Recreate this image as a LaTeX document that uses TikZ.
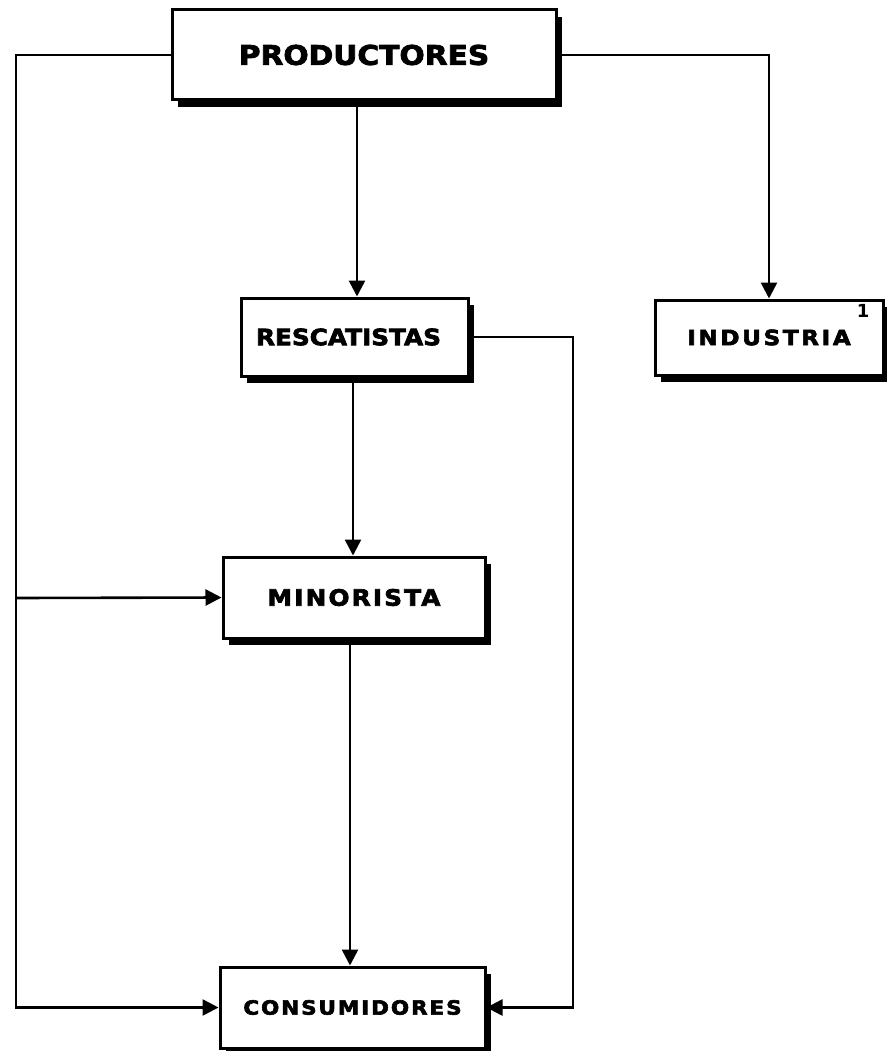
\documentclass[tikz,border=0pt]{standalone}
\usepackage{fontspec}
\newfontfamily\boxfont{DejaVu Sans}[BoldFont={DejaVu Sans Bold}]
\usetikzlibrary{positioning,arrows.meta,shadows}

\begin{document}
\begin{tikzpicture}[
  x=1pt, y=-1pt,
  actor/.style={rectangle, draw, line width=3pt, fill=white, align=center,
    inner sep=0pt,
    drop shadow={shadow xshift=6pt, shadow yshift=-7pt, fill=black, opacity=1}},
  arrow/.style={-{Triangle[length=16pt, width=16pt]}, line width=2.6pt},
]
\useasboundingbox (0,0) rectangle (886,1051);

% === Boxes ===
\node[actor, minimum width=384pt, minimum height=90pt,
  font=\boxfont\bfseries\fontsize{27}{28}\selectfont\addfontfeature{FakeStretch=1.1,FakeBold=3}]
  (prod) at (364,55) {PRODUCTORES};
\node[actor, minimum width=227pt, minimum height=78pt,
  font=\boxfont\bfseries\fontsize{22.5}{24}\selectfont\addfontfeature{FakeStretch=1.1,FakeBold=3}]
  (resc) at (354.5,337) {\hspace*{-12pt}RESCATISTAS};
\node[actor, minimum width=228pt, minimum height=75pt,
  font=\boxfont\bfseries\fontsize{21}{22}\selectfont\addfontfeature{FakeStretch=1.1,FakeBold=3,LetterSpace=12.5}]
  (ind) at (769,337.5) {INDUSTRIA};
\node[font=\boxfont\bfseries\fontsize{18}{19}\selectfont] (nota) at (863,311) {1};
\node[actor, minimum width=262pt, minimum height=81pt,
  font=\boxfont\bfseries\fontsize{22.5}{24}\selectfont\addfontfeature{FakeStretch=1.1,FakeBold=3,LetterSpace=9.5}]
  (mino) at (354,597.5) {MINORISTA};
\node[actor, minimum width=265pt, minimum height=81pt,
  font=\boxfont\bfseries\fontsize{19.5}{21}\selectfont\addfontfeature{FakeStretch=1.1,FakeBold=3,LetterSpace=10}]
  (cons) at (352.5,1007.5) {CONSUMIDORES};

% === Connectors ===
\coordinate (izq) at (16,598);
\coordinate (der) at (573,700);
\draw[arrow] (prod.south -| 357,0) -- (resc.north -| 357,0);
\draw[arrow] (prod.east) -| (ind.north);
\draw[arrow] (resc.south -| 353,0) -- (mino.north -| 353,0);
\draw[arrow] (mino.south -| 350,0) -- (cons.north -| 350,0);
\draw[arrow] (prod.west) -| (izq) |- (cons.west);
\draw[arrow] (izq) -- (mino.west);
\draw[arrow] (resc.east) -| (der) |- (cons.east);

\end{tikzpicture}
\end{document}
